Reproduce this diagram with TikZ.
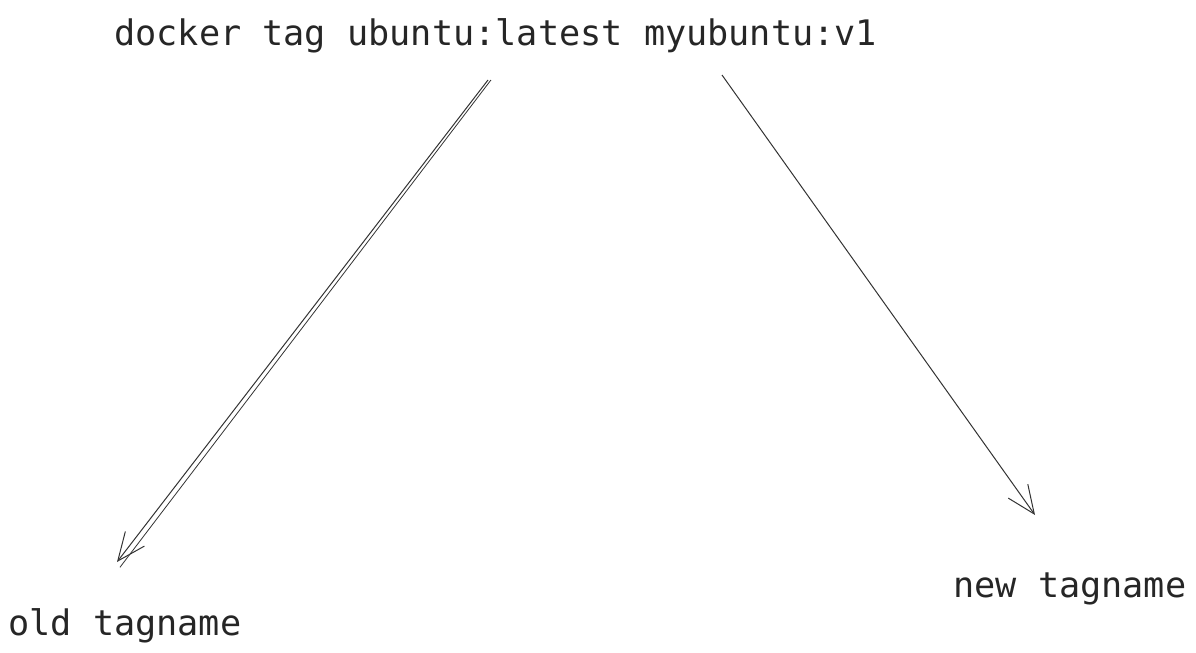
\documentclass[tikz,border=0pt]{standalone}
\usepackage{fontspec}
\setmonofont{DejaVu Sans Mono}
\usetikzlibrary{arrows.meta}

\begin{document}
\begin{tikzpicture}[x=0.75pt,y=-0.75pt,
    label/.style={inner sep=0pt,anchor=base west,font=\ttfamily\fontsize{26.4}{30}\selectfont,text=black!85},
    tagarrow/.style={draw=black!80,line width=0.75pt,-{Straight Barb[length=21pt,width=18pt,line width=0.75pt]}}]
    \useasboundingbox (0,0) rectangle (1196,653);

    % command
    \node[label] (cmd) at (114,45) {docker tag ubuntu:latest myubuntu:v1};

    % labels
    \node[label] (old) at (8,635) {old tagname};
    \node[label] (new) at (953,597) {new tagname};

    % arrow ends
    \coordinate (oldfrom) at (488,80);
    \coordinate (oldto) at (117,562);
    \coordinate (newfrom) at (722,75);
    \coordinate (newto) at (1035,515);

    % arrows
    \draw[tagarrow] (oldfrom) -- (oldto);
    \draw[draw=black!80,line width=0.6pt] ([xshift=2.2pt]oldfrom) -- ([xshift=2.2pt,yshift=-4pt]oldto);
    \draw[tagarrow] (newfrom) -- (newto);
\end{tikzpicture}
\end{document}
